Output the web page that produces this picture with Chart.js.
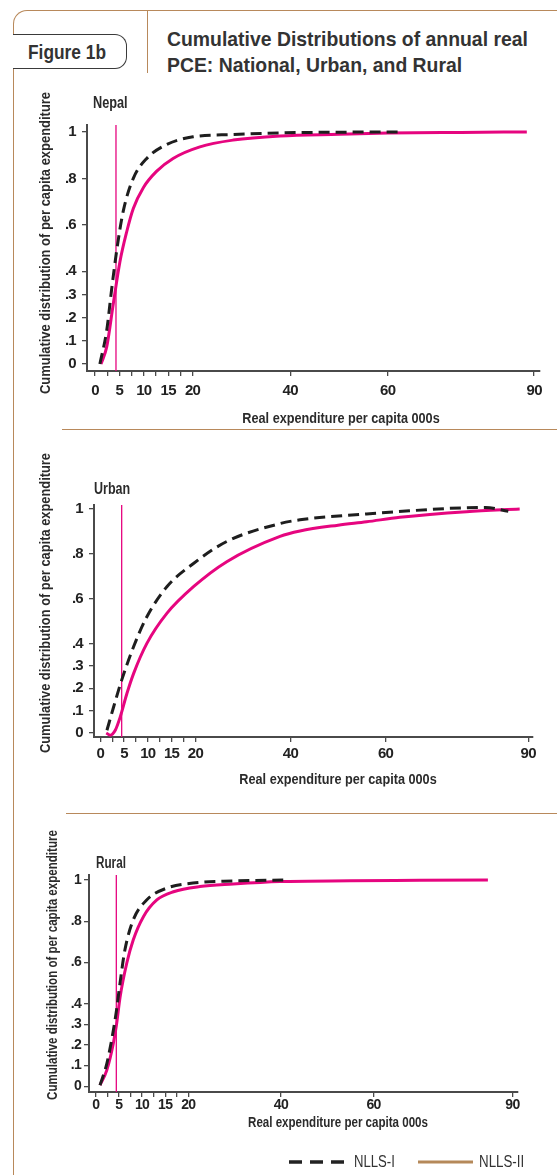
<!DOCTYPE html>
<html>
<head>
<meta charset="utf-8">
<script src="https://cdn.jsdelivr.net/npm/chart.js@4.4.1/dist/chart.umd.min.js"></script>
<style>
  body { margin: 0; background: #fff; }
  #page { position: relative; width: 557px; height: 1175px; overflow: hidden;
          font-family: "Liberation Sans", Arial, sans-serif; color: #2b2b2b; }
  .abs { position: absolute; white-space: nowrap; line-height: 1; }
  canvas { position: absolute; left: 0; }
  .fit { transform-origin: 0 50%; }
  .ytitle { font-weight: bold; }
  .xtitle { font-weight: bold; }
  .ptitle { font-weight: bold; font-size: 16px; }
</style>
</head>
<body>
<div id="page">
  <!-- frame -->
  <div class="abs" style="left:13px;top:10px;width:600px;height:1200px;border-left:1.5px solid #b8895b;border-top:1.5px solid #b8895b;border-top-left-radius:14px;"></div>
  <div class="abs" style="left:147px;top:10px;width:0;height:63px;border-left:1.5px solid #b8895b;"></div>
  <div class="abs" style="left:13px;top:34px;width:113px;height:33px;border:1.5px solid #3a3a3a;border-left:none;border-radius:0 12px 12px 0;background:#fff;"></div>
  <div class="abs fit" data-w="78" style="left:28px;top:42px;font-weight:bold;font-size:20px;color:#333;">Figure 1b</div>
  <div class="abs fit" id="t1" data-w="361" style="left:167px;top:28px;font-weight:bold;font-size:21px;color:#333;">Cumulative Distributions of annual real</div>
  <div class="abs fit" id="t2" style="left:167px;top:54px;font-weight:bold;font-size:21px;color:#333;">PCE: National, Urban, and Rural</div>
  <div class="abs" style="left:62px;top:429px;width:500px;border-top:1.5px solid #b8895b;"></div>
  <div class="abs" style="left:66px;top:813px;width:500px;border-top:1.5px solid #b8895b;"></div>

  <canvas id="nepal" width="557" height="300" style="top:110px"></canvas>
  <canvas id="urban" width="557" height="300" style="top:480px"></canvas>
  <canvas id="rural" width="557" height="270" style="top:850px"></canvas>

  <div class="abs ptitle fit" data-w="35" style="left:93px;top:95px;">Nepal</div>
  <div class="abs ptitle fit" data-w="36" style="left:94px;top:481px;">Urban</div>
  <div class="abs ptitle fit" data-w="30" style="left:96px;top:855px;">Rural</div>

  <div class="abs ytitle" data-cx="44" data-cy="243" data-w="302" data-rot="1" style="font-size:15px;">Cumulative distribution of per capita expenditure</div>
  <div class="abs ytitle" data-cx="44" data-cy="603" data-w="300" data-rot="1" style="font-size:15px;">Cumulative distribution of per capita expenditure</div>
  <div class="abs ytitle" data-cx="52" data-cy="965" data-w="270" data-rot="1" style="font-size:14px;">Cumulative distribution of per capita expenditure</div>

  <div class="abs xtitle" data-cx="341" data-cy="417" data-w="197" style="font-size:15px;">Real expenditure per capita 000s</div>
  <div class="abs xtitle" data-cx="338" data-cy="778" data-w="197" style="font-size:15px;">Real expenditure per capita 000s</div>
  <div class="abs xtitle" data-cx="338" data-cy="1122" data-w="180" style="font-size:14px;">Real expenditure per capita 000s</div>

  <!-- legend -->
  <svg class="abs" style="left:0;top:1150px;" width="557" height="25">
    <line x1="289" y1="12" x2="345" y2="12" stroke="#222" stroke-width="3.5" stroke-dasharray="13 8"/>
    <line x1="418" y1="12" x2="473" y2="12" stroke="#b5895a" stroke-width="3"/>
  </svg>
  <div class="abs fit" data-w="41" style="left:354px;top:1154px;font-size:16px;color:#333;">NLLS-I</div>
  <div class="abs fit" data-w="45" style="left:479px;top:1154px;font-size:16px;color:#333;">NLLS-II</div>
</div>

<script>
// x axis ticks (minor ones between 0 and 20 carry no label)
const xTicks = [0, 2.5, 5, 7.5, 10, 12.5, 15, 17.5, 20, 40, 60, 90];
const yTicks = [0, 0.1, 0.2, 0.3, 0.4, 0.6, 0.8, 1];

// Nepal
const nepalX1 = [1.0, 2.4, 3.4, 4.45, 5.8, 7.85, 10.6, 14.7, 20.1, 28.3, 37.9, 50, 63.2];
const nepalY1 = [0, 0.145, 0.32, 0.49, 0.66, 0.80, 0.886, 0.946, 0.979, 0.989, 0.996, 0.999, 1.0];
const nepalX2 = [1.23, 2.4, 3.75, 5.1, 6.5, 7.85, 9.9, 12.6, 16.0, 21.5, 28.3, 37.9, 50, 60, 75, 88.5];
const nepalY2 = [0, 0.074, 0.26, 0.44, 0.57, 0.67, 0.76, 0.83, 0.886, 0.936, 0.965, 0.983, 0.99, 0.995, 0.998, 1.0];
const nepalLine = 4.3;

// Urban
const urbanX1 = [1.4, 2.8, 4.5, 7.0, 9.8, 14.0, 19.6, 26.6, 37.8, 42, 56, 65, 73.5, 81, 85.8];
const urbanY1 = [0.012, 0.116, 0.236, 0.385, 0.519, 0.653, 0.757, 0.855, 0.935, 0.952, 0.978, 0.992, 1.003, 1.007, 0.99];
const urbanX2 = [1.26, 2.1, 3.15, 4.2, 5.6, 7.0, 9.8, 14.0, 19.6, 26.6, 37.8, 42, 50, 56, 63, 77, 88.2];
const urbanY2 = [0, -0.01, 0.012, 0.072, 0.176, 0.265, 0.40, 0.534, 0.653, 0.765, 0.878, 0.902, 0.928, 0.943, 0.963, 0.988, 1.0];
const urbanLine = 4.5;

// Rural
const ruralX1 = [0.93, 2.4, 3.8, 4.5, 5.25, 6.3, 8.1, 11, 15.3, 21, 29.7, 40.5];
const ruralY1 = [0.005, 0.11, 0.27, 0.37, 0.50, 0.66, 0.806, 0.903, 0.96, 0.985, 0.995, 1.0];
const ruralX2 = [0.93, 2.4, 3.8, 4.5, 5.25, 6.7, 8.1, 10.3, 13.2, 16.8, 22.5, 29.7, 39.8, 55, 70, 84.7];
const ruralY2 = [0.005, 0.078, 0.207, 0.30, 0.43, 0.596, 0.709, 0.822, 0.903, 0.943, 0.968, 0.98, 0.992, 0.996, 0.998, 1.0];
const ruralLine = 4.45;

const FONT = '"Liberation Sans", Arial, sans-serif';
const PINK = '#e6057f';
const BLACK = '#1e1e1e';
const AXIS = '#4a4a4a';

// squeeze the html texts to the condensed widths of the original
document.querySelectorAll('[data-w]').forEach(el => {
    const s = el.dataset.w / el.offsetWidth;
    if (el.dataset.cx) {
        el.style.left = el.dataset.cx + 'px';
        el.style.top = el.dataset.cy + 'px';
        el.style.transformOrigin = '50% 50%';
        el.style.transform = 'translate(-50%, -50%)' + (el.dataset.rot ? ' rotate(-90deg)' : '') + ' scaleX(' + s + ')';
    } else {
        el.style.transform = 'scaleX(' + s + ')';
        if (el.id === 't1') document.getElementById('t2').style.transform = 'scaleX(' + s + ')';
    }
});

// tighter letters for the canvas tick labels
const narrowText = {
    id: 'narrowText',
    beforeDraw(chart) { chart.ctx.letterSpacing = '-0.7px'; }
};

function pairs(xs, ys) {
    return xs.map((x, i) => ({ x: x, y: ys[i] }));
}

function yLabel(v) {
    if (v === 0) return '0';
    if (v === 1) return '1';
    return String(v).replace('0.', '.');
}

function makePanel(id, p) {
    const ctx = document.getElementById(id).getContext('2d');
    new Chart(ctx, {
        type: 'line',
        plugins: [narrowText],
        data: {
            datasets: [
                {
                    label: 'NLLS-I',
                    data: pairs(p.x1, p.y1),
                    borderColor: BLACK,
                    borderWidth: 3,
                    borderDash: [11, 6],
                    pointRadius: 0,
                    cubicInterpolationMode: 'monotone'
                },
                {
                    label: 'NLLS-II',
                    data: pairs(p.x2, p.y2),
                    borderColor: PINK,
                    borderWidth: 3,
                    pointRadius: 0,
                    cubicInterpolationMode: 'monotone'
                },
                {
                    label: 'line',
                    data: [{ x: p.line, y: p.yMin }, { x: p.line, y: p.yMax }],
                    borderColor: PINK,
                    borderWidth: 1.3,
                    pointRadius: 0
                }
            ]
        },
        options: {
            responsive: false,
            animation: false,
            events: [],
            layout: { padding: { top: p.padTop, right: p.padRight, bottom: 0, left: 0 } },
            plugins: { legend: { display: false }, tooltip: { enabled: false } },
            scales: {
                x: {
                    type: 'linear',
                    min: p.xMin,
                    max: p.xMax,
                    afterBuildTicks: (axis) => { axis.ticks = xTicks.map(v => ({ value: v })); },
                    afterFit: (axis) => { axis.height = p.xAxisH; },
                    ticks: {
                        autoSkip: false,
                        maxRotation: 0,
                        padding: p.xPad,
                        color: '#222',
                        font: { family: FONT, size: p.fs, weight: 'bold' },
                        callback: (v) => Number.isInteger(v) ? String(v) : ''
                    },
                    grid: { drawOnChartArea: false, drawTicks: true, tickLength: 5, color: AXIS, lineWidth: 1.3 },
                    border: { display: true, color: AXIS, width: 2 }
                },
                y: {
                    type: 'linear',
                    min: p.yMin,
                    max: p.yMax,
                    afterBuildTicks: (axis) => { axis.ticks = yTicks.map(v => ({ value: v })); },
                    afterFit: (axis) => { axis.width = p.yAxisW; },
                    ticks: {
                        padding: p.yPad,
                        color: '#222',
                        font: { family: FONT, size: p.fs, weight: 'bold' },
                        callback: (v) => yLabel(v)
                    },
                    grid: { drawOnChartArea: false, drawTicks: true, tickLength: 5, color: AXIS, lineWidth: 1.3 },
                    border: { display: true, color: AXIS, width: 2 }
                }
            }
        }
    });
}

makePanel('nepal', {
    x1: nepalX1, y1: nepalY1, x2: nepalX2, y2: nepalY2, line: nepalLine,
    xMin: -1.64, xMax: 91.2, yMin: -0.03, yMax: 1.03,
    padTop: 13, padRight: 17, xAxisH: 39, yAxisW: 87, xPad: 6, yPad: 6, fs: 15
});
makePanel('urban', {
    x1: urbanX1, y1: urbanY1, x2: urbanX2, y2: urbanY2, line: urbanLine,
    xMin: -1.32, xMax: 91, yMin: -0.018, yMax: 1.018,
    padTop: 25, padRight: 24, xAxisH: 43, yAxisW: 94, xPad: 3, yPad: 6, fs: 15
});
makePanel('rural', {
    x1: ruralX1, y1: ruralY1, x2: ruralX2, y2: ruralY2, line: ruralLine,
    xMin: -1.45, xMax: 91.2, yMin: -0.028, yMax: 1.024,
    padTop: 25, padRight: 39, xAxisH: 28, yAxisW: 89, xPad: 0, yPad: 3, fs: 14
});
</script>
</body>
</html>
